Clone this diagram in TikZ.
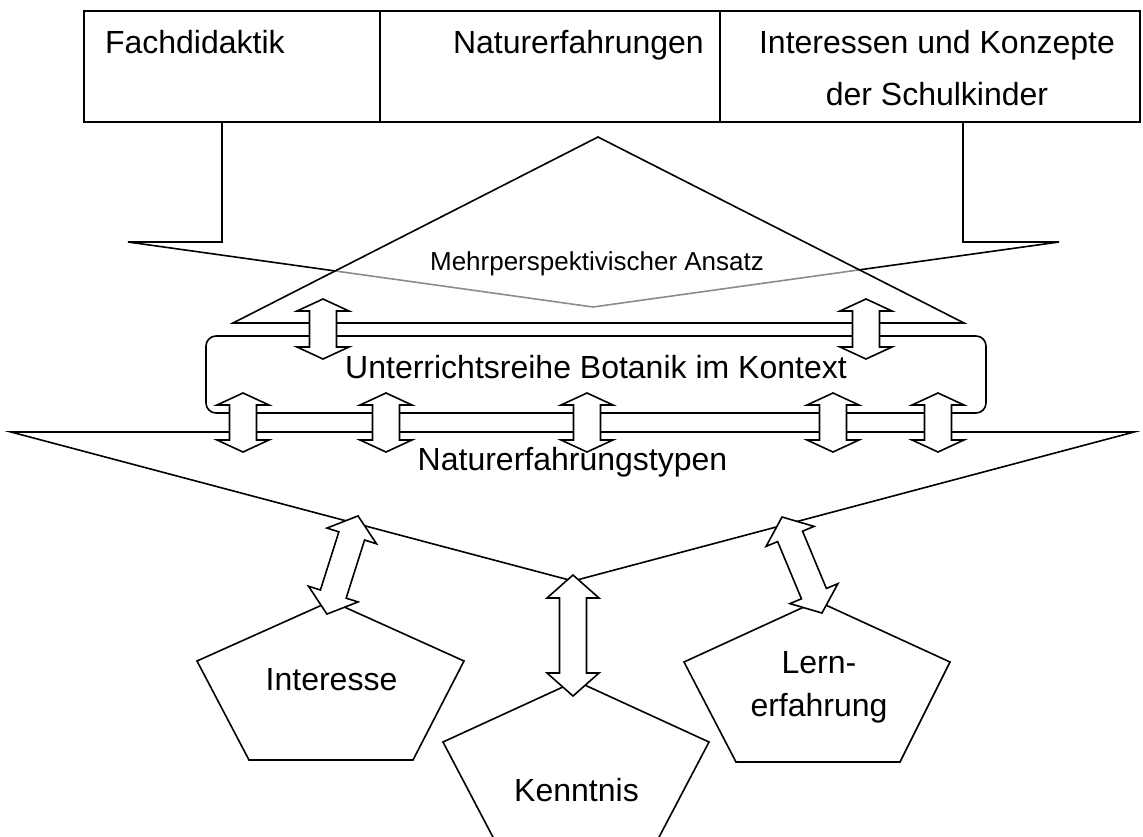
\documentclass[tikz,border=0pt]{standalone}
\usepackage{fontspec}
\setmainfont{Liberation Sans}
% double-headed block arrow: centre, angle, length, head length
\newcommand\dblarr[4]{%
  \begin{scope}[shift={(#1)}, rotate=#2]
    \draw[arrowbody] (-#3/2,0) -- (-#3/2+#4,26) -- (-#3/2+#4,13.5)
      -- (#3/2-#4,13.5) -- (#3/2-#4,26) -- (#3/2,0) -- (#3/2-#4,-26)
      -- (#3/2-#4,-13.5) -- (-#3/2+#4,-13.5) -- (-#3/2+#4,-26) -- cycle;
  \end{scope}}
\begin{document}
\begin{tikzpicture}[x=1pt,y=-1pt,
  every node/.style={inner sep=0pt, outer sep=0pt},
  ln/.style={line width=1.6pt},
  lbl/.style={anchor=base, font=\fontsize{32}{43}\selectfont, align=center},
  smalllbl/.style={anchor=base, font=\fontsize{26}{30}\selectfont},
  topbox/.style={draw, line width=1.6pt, anchor=north west, minimum height=111pt},
  arrowbody/.style={draw, fill=white, line width=1.6pt}]
\useasboundingbox (0,0) rectangle (1143,836);
\clip (0,0) rectangle (1143,836);

% three source boxes
\node[topbox, minimum width=296pt] (fd) at (84,11) {};
\node[topbox, minimum width=340pt] (ne) at (380,11) {};
\node[topbox, minimum width=420pt] (ik) at (720,11) {};
\node[lbl, anchor=base west] (tfd) at (105,53) {Fachdidaktik};
\node[lbl, anchor=base west] (tne) at (453,53) {Naturerfahrungen};
% multi-line labels are anchored on the baseline of their last line
\node[lbl, font=\fontsize{32}{52}\selectfont] (tik) at (937,105) {Interessen und Konzepte\\der Schulkinder};

% funnel from the boxes
\coordinate (fl) at (222,122);
\coordinate (fr) at (963,122);
\draw[ln] (fl) -- (222,242) -- (128,242) -- (593,307) -- (1059,242) -- (963,242) -- (fr);

% multi-perspective triangle (half-transparent fill)
\draw[ln, fill=white, fill opacity=0.55] (598,137) -- (964,323) -- (233,323) -- cycle;
\node[smalllbl] (mpa) at (597,270) {Mehrperspektivischer Ansatz};

% teaching unit frame
\draw[ln, rounded corners=10pt] (206,336) rectangle (986,413);
\node[lbl] (ur) at (596,378) {Unterrichtsreihe Botanik im Kontext};

% experience types triangle
\draw[ln] (11,432) -- (1134,432) -- (573,581) -- cycle;
\node[lbl] (nt) at (572.5,470) {Naturerfahrungstypen};

% outcome pentagons
\draw[ln] (331,601) -- (464,661) -- (413,760) -- (249,760) -- (197,661) -- cycle;
\draw[ln] (576,681) -- (709,742) -- (657,841) -- (495,841) -- (443,742) -- cycle;
\draw[ln] (817,601) -- (950,662) -- (900,762) -- (736,762) -- (684,662) -- cycle;
\node[lbl] (int) at (331.5,690) {Interesse};
\node[lbl] (ken) at (576.5,801) {Kenntnis};
\node[lbl] (lern) at (819,716) {Lern-\\erfahrung};

% exchange arrows on the rails
\dblarr{323,329}{90}{60}{12}
\dblarr{866,329}{90}{60}{12}
\dblarr{243,422.5}{90}{59}{12}
\dblarr{386,422.5}{90}{59}{12}
\dblarr{587,422.5}{90}{59}{12}
\dblarr{833,422.5}{90}{59}{12}
\dblarr{938,422.5}{90}{59}{12}

% exchange arrows to the pentagons
\dblarr{342.5,565}{72.4}{103}{21}
\dblarr{573,635.5}{90}{121}{23}
\dblarr{802,565}{112.6}{104}{21}
\end{tikzpicture}
\end{document}
